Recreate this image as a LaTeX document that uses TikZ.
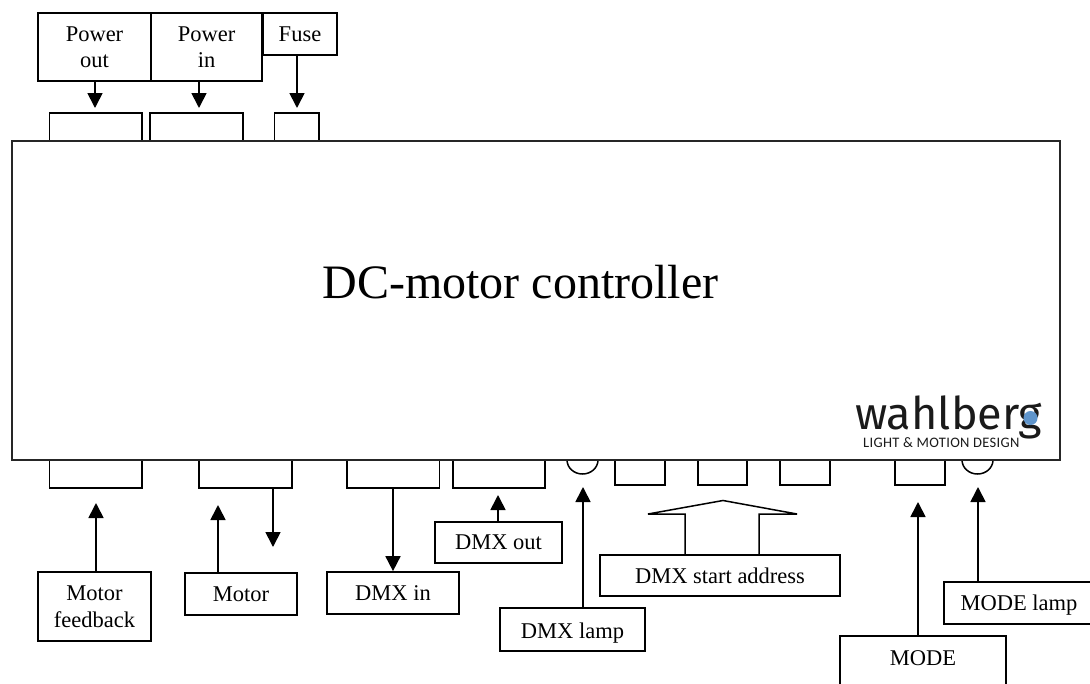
\documentclass[tikz,border=0pt]{standalone}
\usepackage{fontspec}
\setmainfont{Liberation Serif}
\newfontfamily\logofont{Fira Sans}
\newfontfamily\tagfont[LetterSpace=2.3]{Carlito}
\usetikzlibrary{arrows.meta,shapes.geometric}
\definecolor{logoblue}{HTML}{5F95CC}
\definecolor{logodark}{HTML}{1A1A1A}
\tikzset{
  labelbox/.style={draw=black,fill=white,line width=1.7pt,inner sep=0pt,align=center,font=\fontsize{22.5}{26.5}\selectfont},
  port/.style={draw=black,fill=white,line width=1.7pt,inner sep=0pt},
  mainbox/.style={draw=black!85,fill=white,line width=1.4pt,inner sep=0pt},
  lampshape/.style={draw=black,line width=1.5pt,ellipse,minimum width=31pt,minimum height=28pt,inner sep=0pt},
  link/.style={line width=1.7pt,-{Triangle[length=15pt,width=15pt]}},
  outlinearrow/.style={line width=1.5pt,line join=miter},
}
% name, x1, y1, x2, y2, style, text
\newcommand{\pxbox}[7]{\node[#6,minimum width={(#4-#2)*1pt},minimum height={(#5-#3)*1pt}] (#1) at ({(#2+#4)/2},{(#3+#5)/2}) {#7};}
\begin{document}
\begin{tikzpicture}[x=1pt,y=-1pt]
\useasboundingbox (0,0) rectangle (1090,683);
\clip (0,0) rectangle (1090,683);
% ports
\pxbox{ptopa}{49.5}{113}{142}{141}{port}{}
\pxbox{ptopb}{150}{113}{243}{141}{port}{}
\pxbox{ptopc}{274.5}{113}{319}{141}{port}{}
\pxbox{pba}{49.5}{460}{142}{488}{port}{}
\pxbox{pbb}{199}{460}{292}{488}{port}{}
\pxbox{pbc}{347}{460}{439.5}{488}{port}{}
\pxbox{pbd}{453}{460}{545}{488}{port}{}
\pxbox{swa}{615}{460}{665}{485}{port}{}
\pxbox{swb}{698}{460}{747}{485}{port}{}
\pxbox{swc}{780}{460}{830}{485}{port}{}
\pxbox{swd}{895}{460}{945}{485}{port}{}
\node[lampshape] (lampa) at (582.5,460) {};
\node[lampshape] (lampb) at (977.5,460) {};
% main
\pxbox{main}{12}{141}{1060}{460}{mainbox}{}
\node[font=\fontsize{48}{52}\selectfont] (title) at (520.5,282.5) {DC-motor controller};
% logo
\node[font=\logofont\fontsize{45}{48}\selectfont,text=logodark,inner sep=0pt,anchor=base west] (logo) at (855,429) {wahlberg};
\node[circle,fill=logoblue,minimum size=14pt,inner sep=0pt] (dot) at (1030.5,418) {};
\node[font=\tagfont\fontsize{14.5}{15}\selectfont,text=logodark,inner sep=0pt,anchor=base west] (tag) at (863,447) {LIGHT \& MOTION DESIGN};
% label boxes
\pxbox{pout}{38}{13}{151}{81}{labelbox}{Power\\out}
\pxbox{pin}{151}{13}{262}{81}{labelbox}{Power\\in}
\pxbox{fuse}{263}{13}{337}{55}{labelbox}{Fuse}
\pxbox{mfb}{38}{572}{151}{641}{labelbox}{Motor\\feedback}
\pxbox{motor}{185}{573}{297}{615}{labelbox}{Motor}
\pxbox{dmxin}{327}{572}{459}{614}{labelbox}{DMX in}
\pxbox{dmxout}{435}{522}{562}{563}{labelbox}{DMX out}
\pxbox{dmxlamp}{500}{608}{645}{651}{labelbox,text height=21.7pt,text depth=4.7pt}{DMX lamp}
\pxbox{dmxaddr}{600}{555}{840}{596}{labelbox}{DMX start address}
\pxbox{mode}{840}{636}{1006}{690}{labelbox,text height=15pt,text depth=10pt}{MODE}
\pxbox{modelamp}{944}{582}{1094}{624}{labelbox,text height=20pt,text depth=4.7pt}{MODE lamp}
% free ends
\coordinate (tipa) at (95,108);
\coordinate (tipb) at (199,108);
\coordinate (tipc) at (297,108);
\coordinate (tipd) at (96,503);
\coordinate (tipe) at (218,505);
\coordinate (tipf) at (273,547);
\coordinate (tipg) at (393,572);
\coordinate (tiph) at (498,495);
\coordinate (tipi) at (583,487);
\coordinate (tipj) at (918,502);
\coordinate (tipk) at (978,487);
% connectors
\draw[link] (pout.south -| tipa) -- (tipa);
\draw[link] (pin.south -| tipb) -- (tipb);
\draw[link] (fuse.south -| tipc) -- (tipc);
\draw[link] (mfb.north -| tipd) -- (tipd);
\draw[link] (motor.north -| tipe) -- (tipe);
\draw[link] (pbb.south -| tipf) -- (tipf);
\draw[link] (pbc.south -| tipg) -- (dmxin.north -| tipg);
\draw[link] (dmxout.north -| tiph) -- (tiph);
\draw[link] (dmxlamp.north -| tipi) -- (tipi);
\draw[link] (mode.north -| tipj) -- (tipj);
\draw[link] (modelamp.north -| tipk) -- (tipk);
% hollow arrow
\coordinate (hl) at (685,514);
\coordinate (hr) at (759,514);
\draw[outlinearrow] (dmxaddr.north -| hl) -- (hl) -- (648,514) -- (723,500.5) -- (797,514) -- (hr) -- (dmxaddr.north -| hr);
\end{tikzpicture}
\end{document}
